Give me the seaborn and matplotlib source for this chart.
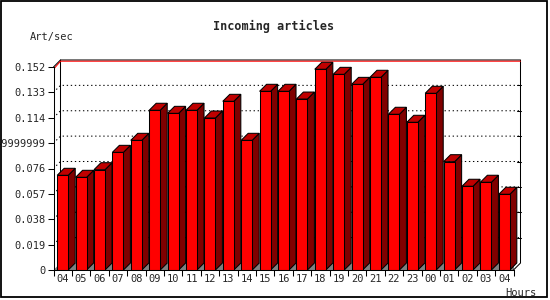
import matplotlib
matplotlib.use("Agg")
import matplotlib.pyplot as plt
import matplotlib.patches as mpatches
import seaborn as sns
import pandas as pd

# data
hours = ["04", "05", "06", "07", "08", "09", "10", "11", "12", "13", "14", "15",
         "16", "17", "18", "19", "20", "21", "22", "23", "00", "01", "02", "03", "04"]
art_per_sec = [0.0709, 0.0694, 0.0751, 0.0881, 0.0971, 0.1196, 0.1173, 0.1196,
               0.1138, 0.1263, 0.0971, 0.1338, 0.1338, 0.1280, 0.1503, 0.1465,
               0.1390, 0.1443, 0.1166, 0.1106, 0.1323, 0.0811, 0.0627, 0.0657,
               0.0567]
y_ticks = [0, 0.019, 0.038, 0.057, 0.076, 0.095, 0.114, 0.133, 0.152]
y_tick_labels = ["0", "0.019", "0.038", "0.057", "0.076", "0.0949999999",
                 "0.114", "0.133", "0.152"]
y_max = 0.152

sns.set_style("white")
plt.rcParams["font.family"] = ["DejaVu Sans Mono"]

W, H = 550, 300
LW = 0.75
fig = plt.figure(figsize=(W / 100, H / 100), dpi=100)
ax = fig.add_axes([53.5 / W, 30 / H, 460 / W, 203 / H])

df = pd.DataFrame({"slot": range(len(hours)), "value": art_per_sec})
sns.barplot(data=df, x="slot", y="value", color="#ff0000", saturation=1,
            width=0.6, edgecolor="black", linewidth=LW, ax=ax, zorder=4)

n = len(hours)
ax.set_xlim(-0.5, n - 0.5)
ax.set_ylim(0, y_max)

# depth of the fake 3d box (7 px both ways)
dx = 7 / (460 / n)
dy = 7 / 203 * y_max
px = y_max / 203

# floor
floor = mpatches.Polygon([(-0.5, 0), (n - 0.5, 0), (n - 0.5 + dx, dy), (-0.5 + dx, dy)],
                         closed=True, facecolor="#808080", edgecolor="none", zorder=1)
ax.add_patch(floor)

# side and top faces from the bars seaborn drew
for bar in list(ax.patches):
    if bar is floor:
        continue
    x0, w, h = bar.get_x(), bar.get_width(), bar.get_height()
    x1 = x0 + w
    side = mpatches.Polygon([(x1, 0), (x1 + dx, dy), (x1 + dx, h + dy), (x1, h)],
                            closed=True, facecolor="#800000", edgecolor="black",
                            linewidth=LW, zorder=3, clip_on=False)
    top = mpatches.Polygon([(x0, h), (x0 + dx, h + dy), (x1 + dx, h + dy), (x1, h)],
                           closed=True, facecolor="#c00000", edgecolor="black",
                           linewidth=LW, zorder=3, clip_on=False)
    ax.add_patch(side)
    ax.add_patch(top)

# grid on the back wall
bx0, bx1 = -0.5 + dx, n - 0.5 + dx
for t in y_ticks[1:-1]:
    ax.plot([-0.5 + 0.15, bx0, bx1], [t + 0.4 * dy, t + dy, t + dy], color="black",
            linestyle=(0, (1.3, 2.6)), linewidth=LW, zorder=2, clip_on=False)
    ax.plot([bx1 - 0.17, bx1], [t + dy, t + dy], color="black", linewidth=LW,
            zorder=2, clip_on=False)

# back wall frame
ax.plot([bx0, bx0, bx1, bx1, n - 0.5], [dy, y_max + dy, y_max + dy, dy, 0],
        color="black", linewidth=LW, zorder=2, clip_on=False)
ax.plot([-0.5, bx0], [y_max, y_max + dy], color="black", linewidth=LW,
        zorder=2, clip_on=False)
# red max line
ax.plot([-0.5 + 0.06, bx0, bx1], [y_max - px, y_max + dy - 1.2 * px, y_max + dy - 1.2 * px],
        color="#ff0000", linewidth=LW, zorder=2, clip_on=False)

# axes
for s in ["top", "right"]:
    ax.spines[s].set_visible(False)
for s in ["left", "bottom"]:
    ax.spines[s].set_color("black")
    ax.spines[s].set_linewidth(LW)
    ax.spines[s].set_zorder(5)

ax.set_yticks(y_ticks, y_tick_labels)
ax.set_xticks(range(n), hours)
ax.set_xticks([i - 0.5 for i in range(n + 1)], minor=True)
ax.tick_params(axis="y", which="major", direction="out", length=4, width=LW,
               color="black", labelsize=7.5, pad=2, left=True)
ax.tick_params(axis="x", which="major", length=0, labelsize=7.5, pad=3)
ax.tick_params(axis="x", which="minor", direction="out", length=4, width=LW,
               color="black", bottom=True)
ax.set_xlabel("")
ax.set_ylabel("")
ax.set_facecolor("white")

fig.text(274 / W, 1 - 26 / H, "Incoming articles", ha="center", va="center",
         fontsize=8.5, fontweight="bold")
fig.text(30 / W, 1 - 37 / H, "Art/sec", ha="left", va="center", fontsize=7.5)
fig.text(505 / W, 1 - 293 / H, "Hours", ha="left", va="center", fontsize=7.5)

# outer border
fig.patches.append(mpatches.Rectangle((1 / W, 3 / H), 546 / W, 296 / H,
                                      transform=fig.transFigure, fill=False,
                                      edgecolor="black", linewidth=1.3))

fig.savefig("out.png", dpi=100)
